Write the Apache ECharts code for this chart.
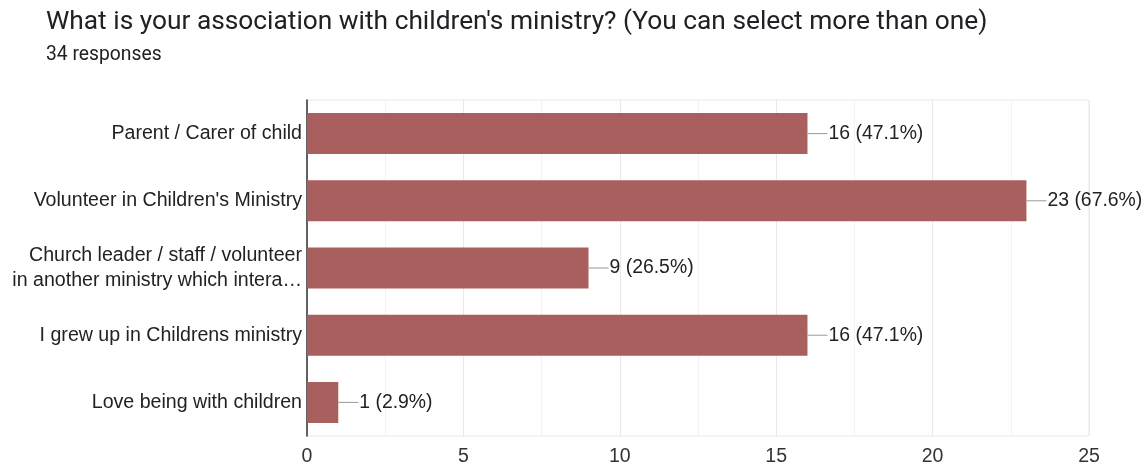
<!DOCTYPE html>
<html><head><meta charset="utf-8">
<script src="https://cdn.jsdelivr.net/npm/echarts@6/dist/echarts.min.js"></script>
<style>html,body{margin:0;padding:0;background:#fff}#c{width:1142px;height:469px}</style>
</head><body><div id="c"></div>
<script>
const categories = ["Parent / Carer of child", "Volunteer in Children's Ministry", "Church leader / staff / volunteer\nin another ministry which intera…", "I grew up in Childrens ministry", "Love being with children"];
const counts = [16, 23, 9, 16, 1];
const percents = ["47.1%", "67.6%", "26.5%", "47.1%", "2.9%"];
const xTicks = [0, 5, 10, 15, 20, 25];
const title = "What is your association with children's ministry? (You can select more than one)";
const subtitle = "34 responses";

const FONT = 'Liberation Sans';
const chart = echarts.init(document.getElementById('c'));
chart.setOption({
  animation: false,
  title: {
    text: title, subtext: subtitle, left: 41, top: 4, itemGap: 11,
    textStyle: {fontFamily: 'Roboto', fontSize: 26.3, fontWeight: 'normal', color: '#202124'},
    subtextStyle: {fontFamily: 'Roboto', fontSize: 19.3, color: '#202124'}
  },
  grid: {left: 307, right: 53, top: 100, bottom: 33, show: true, borderColor: '#e8e8e8', borderWidth: 1},
  xAxis: {
    type: 'value', min: xTicks[0], max: xTicks[xTicks.length-1], interval: 5,
    axisLine: {show: false}, axisTick: {show: false},
    axisLabel: {fontFamily: FONT, fontSize: 19.5, color: '#333', margin: 11},
    splitLine: {lineStyle: {color: '#e8e8e8', width: 1}},
    minorTick: {show: false, splitNumber: 2},
    minorSplitLine: {show: true, lineStyle: {color: '#f2f2f2', width: 1}}
  },
  yAxis: {
    type: 'category', data: categories, inverse: true,
    axisLine: {lineStyle: {color: '#333', width: 1.5}}, axisTick: {show: false},
    axisLabel: {fontFamily: FONT, fontSize: 19.6, color: '#222', margin: 5, lineHeight: 25, align: 'right'}
  },
  series: [{
    type: 'bar', data: counts, barWidth: '61%',
    itemStyle: {color: '#a95f5d'},
    label: {
      show: true, position: 'right', distance: 0,
      formatter: p => '{l|}{v|' + counts[p.dataIndex] + ' (' + percents[p.dataIndex] + ')}',
      rich: {
        l: {width: 20, height: 1, backgroundColor: '#999'},
        v: {fontFamily: FONT, fontSize: 19.4, color: '#222', padding: [0,0,0,1]}
      }
    }
  }]
});
</script></body></html>
